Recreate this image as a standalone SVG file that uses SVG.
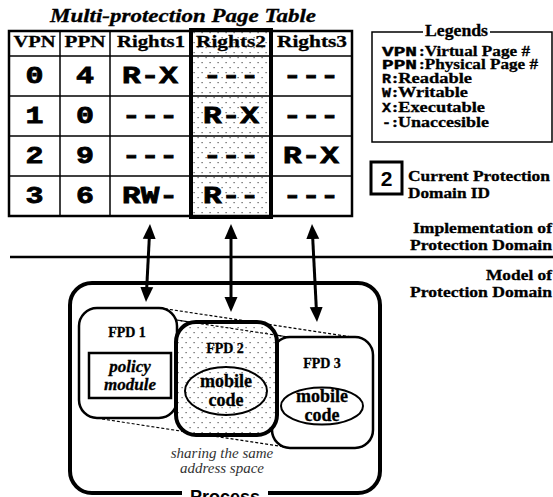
<svg xmlns="http://www.w3.org/2000/svg" width="553" height="497" viewBox="0 0 553 497">
<style>
.ser{font-family:"Liberation Serif","Times New Roman",serif;font-weight:bold;fill:#000;stroke:#000;stroke-width:0.3}
.hdr{font-size:17px;text-anchor:middle}
.mono{font-family:"Liberation Mono","Courier New",monospace;font-weight:bold;fill:#000;stroke:#000;stroke-width:0.8}
.cell{font-size:24px;text-anchor:middle}
.leg{font-size:15px}
.lm{font-size:13px;stroke-width:0.4}
.thin{stroke:#000;stroke-width:1.5;fill:none}
.arrow{stroke:#000;stroke-width:3;fill:none;marker-start:url(#ah);marker-end:url(#ah)}
.dash{stroke:#000;stroke-width:1.2;stroke-dasharray:3 2;fill:none}
.box{stroke:#000;stroke-width:2.5;fill:#fff}
.cap{font-family:"Liberation Serif","Times New Roman",serif;font-style:italic;font-size:15px;fill:#333;text-anchor:middle}
</style>
<defs>
<pattern id="dots" width="8" height="10" patternUnits="userSpaceOnUse">
<rect x="1.5" y="2" width="1.2" height="1.2" fill="#555"/>
<rect x="5.5" y="7" width="1.2" height="1.2" fill="#555"/>
</pattern>
<marker id="ah" markerUnits="userSpaceOnUse" markerWidth="16" markerHeight="14" refX="5" refY="6.5" orient="auto-start-reverse" viewBox="0 0 16 13">
<path d="M0,0 L15,6.5 L0,13 z" fill="#000"/>
</marker>
</defs>

<text class="ser" x="183" y="22" font-size="18" font-style="italic" text-anchor="middle" textLength="266" lengthAdjust="spacingAndGlyphs">Multi-protection Page Table</text>

<g id="table">
<rect x="191" y="31" width="80" height="185" fill="url(#dots)"/>
<rect x="9" y="31" width="343" height="185" fill="none" stroke="#000" stroke-width="2.5"/>
<line class="thin" x1="9" y1="56" x2="352" y2="56"/>
<line class="thin" x1="9" y1="96" x2="352" y2="96"/>
<line class="thin" x1="9" y1="136" x2="352" y2="136"/>
<line class="thin" x1="9" y1="176" x2="352" y2="176"/>
<line class="thin" x1="60" y1="31" x2="60" y2="216"/>
<line class="thin" x1="110" y1="31" x2="110" y2="216"/>
<rect x="191" y="30" width="80" height="187" fill="none" stroke="#000" stroke-width="4"/>
<text class="ser hdr" x="34.5" y="47" textLength="42" lengthAdjust="spacingAndGlyphs">VPN</text>
<text class="ser hdr" x="85" y="47" textLength="41" lengthAdjust="spacingAndGlyphs">PPN</text>
<text class="ser hdr" x="151" y="47" textLength="68" lengthAdjust="spacingAndGlyphs">Rights1</text>
<text class="ser hdr" x="231" y="47" textLength="70" lengthAdjust="spacingAndGlyphs">Rights2</text>
<text class="ser hdr" x="312" y="47" textLength="70" lengthAdjust="spacingAndGlyphs">Rights3</text>
<g class="mono cell">
<text x="34.5" y="83" textLength="18" lengthAdjust="spacingAndGlyphs">0</text>
<text x="85" y="83" textLength="18" lengthAdjust="spacingAndGlyphs">4</text>
<text x="150" y="83" textLength="56" lengthAdjust="spacingAndGlyphs">R-X</text>
<text x="231" y="83" textLength="56" lengthAdjust="spacingAndGlyphs">---</text>
<text x="311" y="83" textLength="56" lengthAdjust="spacingAndGlyphs">---</text>
<text x="34.5" y="123" textLength="18" lengthAdjust="spacingAndGlyphs">1</text>
<text x="85" y="123" textLength="18" lengthAdjust="spacingAndGlyphs">0</text>
<text x="150" y="123" textLength="56" lengthAdjust="spacingAndGlyphs">---</text>
<text x="231" y="123" textLength="56" lengthAdjust="spacingAndGlyphs">R-X</text>
<text x="311" y="123" textLength="56" lengthAdjust="spacingAndGlyphs">---</text>
<text x="34.5" y="163" textLength="18" lengthAdjust="spacingAndGlyphs">2</text>
<text x="85" y="163" textLength="18" lengthAdjust="spacingAndGlyphs">9</text>
<text x="150" y="163" textLength="56" lengthAdjust="spacingAndGlyphs">---</text>
<text x="231" y="163" textLength="56" lengthAdjust="spacingAndGlyphs">---</text>
<text x="311" y="163" textLength="56" lengthAdjust="spacingAndGlyphs">R-X</text>
<text x="34.5" y="203" textLength="18" lengthAdjust="spacingAndGlyphs">3</text>
<text x="85" y="203" textLength="18" lengthAdjust="spacingAndGlyphs">6</text>
<text x="150" y="203" textLength="56" lengthAdjust="spacingAndGlyphs">RW-</text>
<text x="231" y="203" textLength="56" lengthAdjust="spacingAndGlyphs">R--</text>
<text x="311" y="203" textLength="56" lengthAdjust="spacingAndGlyphs">---</text>
</g>
</g>

<g id="legend">
<path class="thin" d="M423,32 H372 V142 H552 V32 H490"/>
<text class="ser" x="456.5" y="36" font-size="16" text-anchor="middle" textLength="63" lengthAdjust="spacingAndGlyphs">Legends</text>
<text class="mono lm" x="382" y="56" textLength="35" lengthAdjust="spacingAndGlyphs">VPN</text>
<text class="ser leg" x="419" y="56" textLength="111" lengthAdjust="spacingAndGlyphs">:Virtual Page #</text>
<text class="mono lm" x="382" y="69" textLength="35" lengthAdjust="spacingAndGlyphs">PPN</text>
<text class="ser leg" x="419" y="69" textLength="119" lengthAdjust="spacingAndGlyphs">:Physical Page #</text>
<text class="mono lm" x="382" y="83" textLength="9" lengthAdjust="spacingAndGlyphs">R</text>
<text class="ser leg" x="392" y="83" textLength="80" lengthAdjust="spacingAndGlyphs">:Readable</text>
<text class="mono lm" x="382" y="97" textLength="9" lengthAdjust="spacingAndGlyphs">W</text>
<text class="ser leg" x="392" y="97" textLength="76" lengthAdjust="spacingAndGlyphs">:Writable</text>
<text class="mono lm" x="382" y="112" textLength="9" lengthAdjust="spacingAndGlyphs">X</text>
<text class="ser leg" x="392" y="112" textLength="93" lengthAdjust="spacingAndGlyphs">:Executable</text>
<text class="mono lm" x="382" y="127" textLength="9" lengthAdjust="spacingAndGlyphs">-</text>
<text class="ser leg" x="392" y="127" textLength="97" lengthAdjust="spacingAndGlyphs">:Unaccesible</text>
</g>

<g id="current-domain">
<rect x="371" y="162" width="31" height="32" fill="none" stroke="#000" stroke-width="3"/>
<text x="386.5" y="186" font-family="Liberation Sans, Arial, sans-serif" font-weight="bold" font-size="21" text-anchor="middle">2</text>
<text class="ser leg" x="408" y="181" textLength="142" lengthAdjust="spacingAndGlyphs">Current Protection</text>
<text class="ser leg" x="408" y="198" textLength="82" lengthAdjust="spacingAndGlyphs">Domain ID</text>
</g>

<g id="layer-labels">
<text class="ser leg" x="552" y="233" text-anchor="end" textLength="139" lengthAdjust="spacingAndGlyphs">Implementation of</text>
<text class="ser leg" x="552" y="250" text-anchor="end" textLength="142" lengthAdjust="spacingAndGlyphs">Protection Domain</text>
<line x1="10" y1="257" x2="553" y2="257" stroke="#000" stroke-width="2.5"/>
<text class="ser leg" x="552" y="280" text-anchor="end" textLength="66" lengthAdjust="spacingAndGlyphs">Model of</text>
<text class="ser leg" x="552" y="297" text-anchor="end" textLength="142" lengthAdjust="spacingAndGlyphs">Protection Domain</text>
</g>

<g id="process">
<rect x="70" y="283" width="310" height="210" rx="22" fill="none" stroke="#000" stroke-width="4"/>
<rect x="182" y="486" width="86" height="11" fill="#fff"/>
<text x="225" y="503" font-family="Liberation Sans, Arial, sans-serif" font-weight="bold" font-size="18" text-anchor="middle">Process</text>
</g>

<g id="sharing-lines">
<line class="dash" x1="105" y1="309" x2="288" y2="337"/>
<line class="dash" x1="160" y1="308" x2="352" y2="337"/>
<line class="dash" x1="102" y1="419" x2="292" y2="448"/>
</g>

<g id="fpd3">
<rect class="box" x="272" y="337" width="101" height="111" rx="18"/>
<text class="ser" x="322" y="368" font-size="14" text-anchor="middle">FPD 3</text>
<ellipse cx="322" cy="406" rx="41" ry="18.5" fill="none" stroke="#000" stroke-width="2"/>
<text class="ser" x="322" y="402" font-size="18" text-anchor="middle">mobile</text>
<text class="ser" x="322" y="421" font-size="18" text-anchor="middle">code</text>
</g>

<g id="fpd1">
<rect class="box" x="79" y="308" width="98" height="110" rx="18"/>
<text class="ser" x="127" y="337" font-size="14" text-anchor="middle">FPD 1</text>
<rect x="89" y="353" width="82" height="45" fill="#fff" stroke="#000" stroke-width="2.5"/>
<text class="ser" x="130" y="372" font-size="17" font-style="italic" text-anchor="middle">policy</text>
<text class="ser" x="130" y="390" font-size="17" font-style="italic" text-anchor="middle">module</text>
</g>

<g id="fpd2">
<rect x="176" y="322" width="101" height="113" rx="20" fill="#fff"/>
<line class="dash" x1="176" y1="320" x2="288" y2="337"/>
<rect x="176" y="322" width="101" height="113" rx="20" fill="url(#dots)" stroke="#000" stroke-width="4"/>
<text class="ser" x="225" y="353" font-size="14" text-anchor="middle">FPD 2</text>
<ellipse cx="226" cy="391" rx="41" ry="24" fill="none" stroke="#000" stroke-width="2"/>
<text class="ser" x="226" y="387" font-size="18" text-anchor="middle">mobile</text>
<text class="ser" x="226" y="406" font-size="18" text-anchor="middle">code</text>
</g>

<text class="cap" x="222" y="458">sharing the same</text>
<text class="cap" x="222" y="473">address space</text>

<g id="connectors">
<line class="arrow" x1="149.5" y1="234" x2="146.5" y2="292"/>
<line class="arrow" x1="231" y1="234" x2="231" y2="302"/>
<line class="arrow" x1="312.5" y1="234" x2="316.5" y2="312"/>
</g>
</svg>
